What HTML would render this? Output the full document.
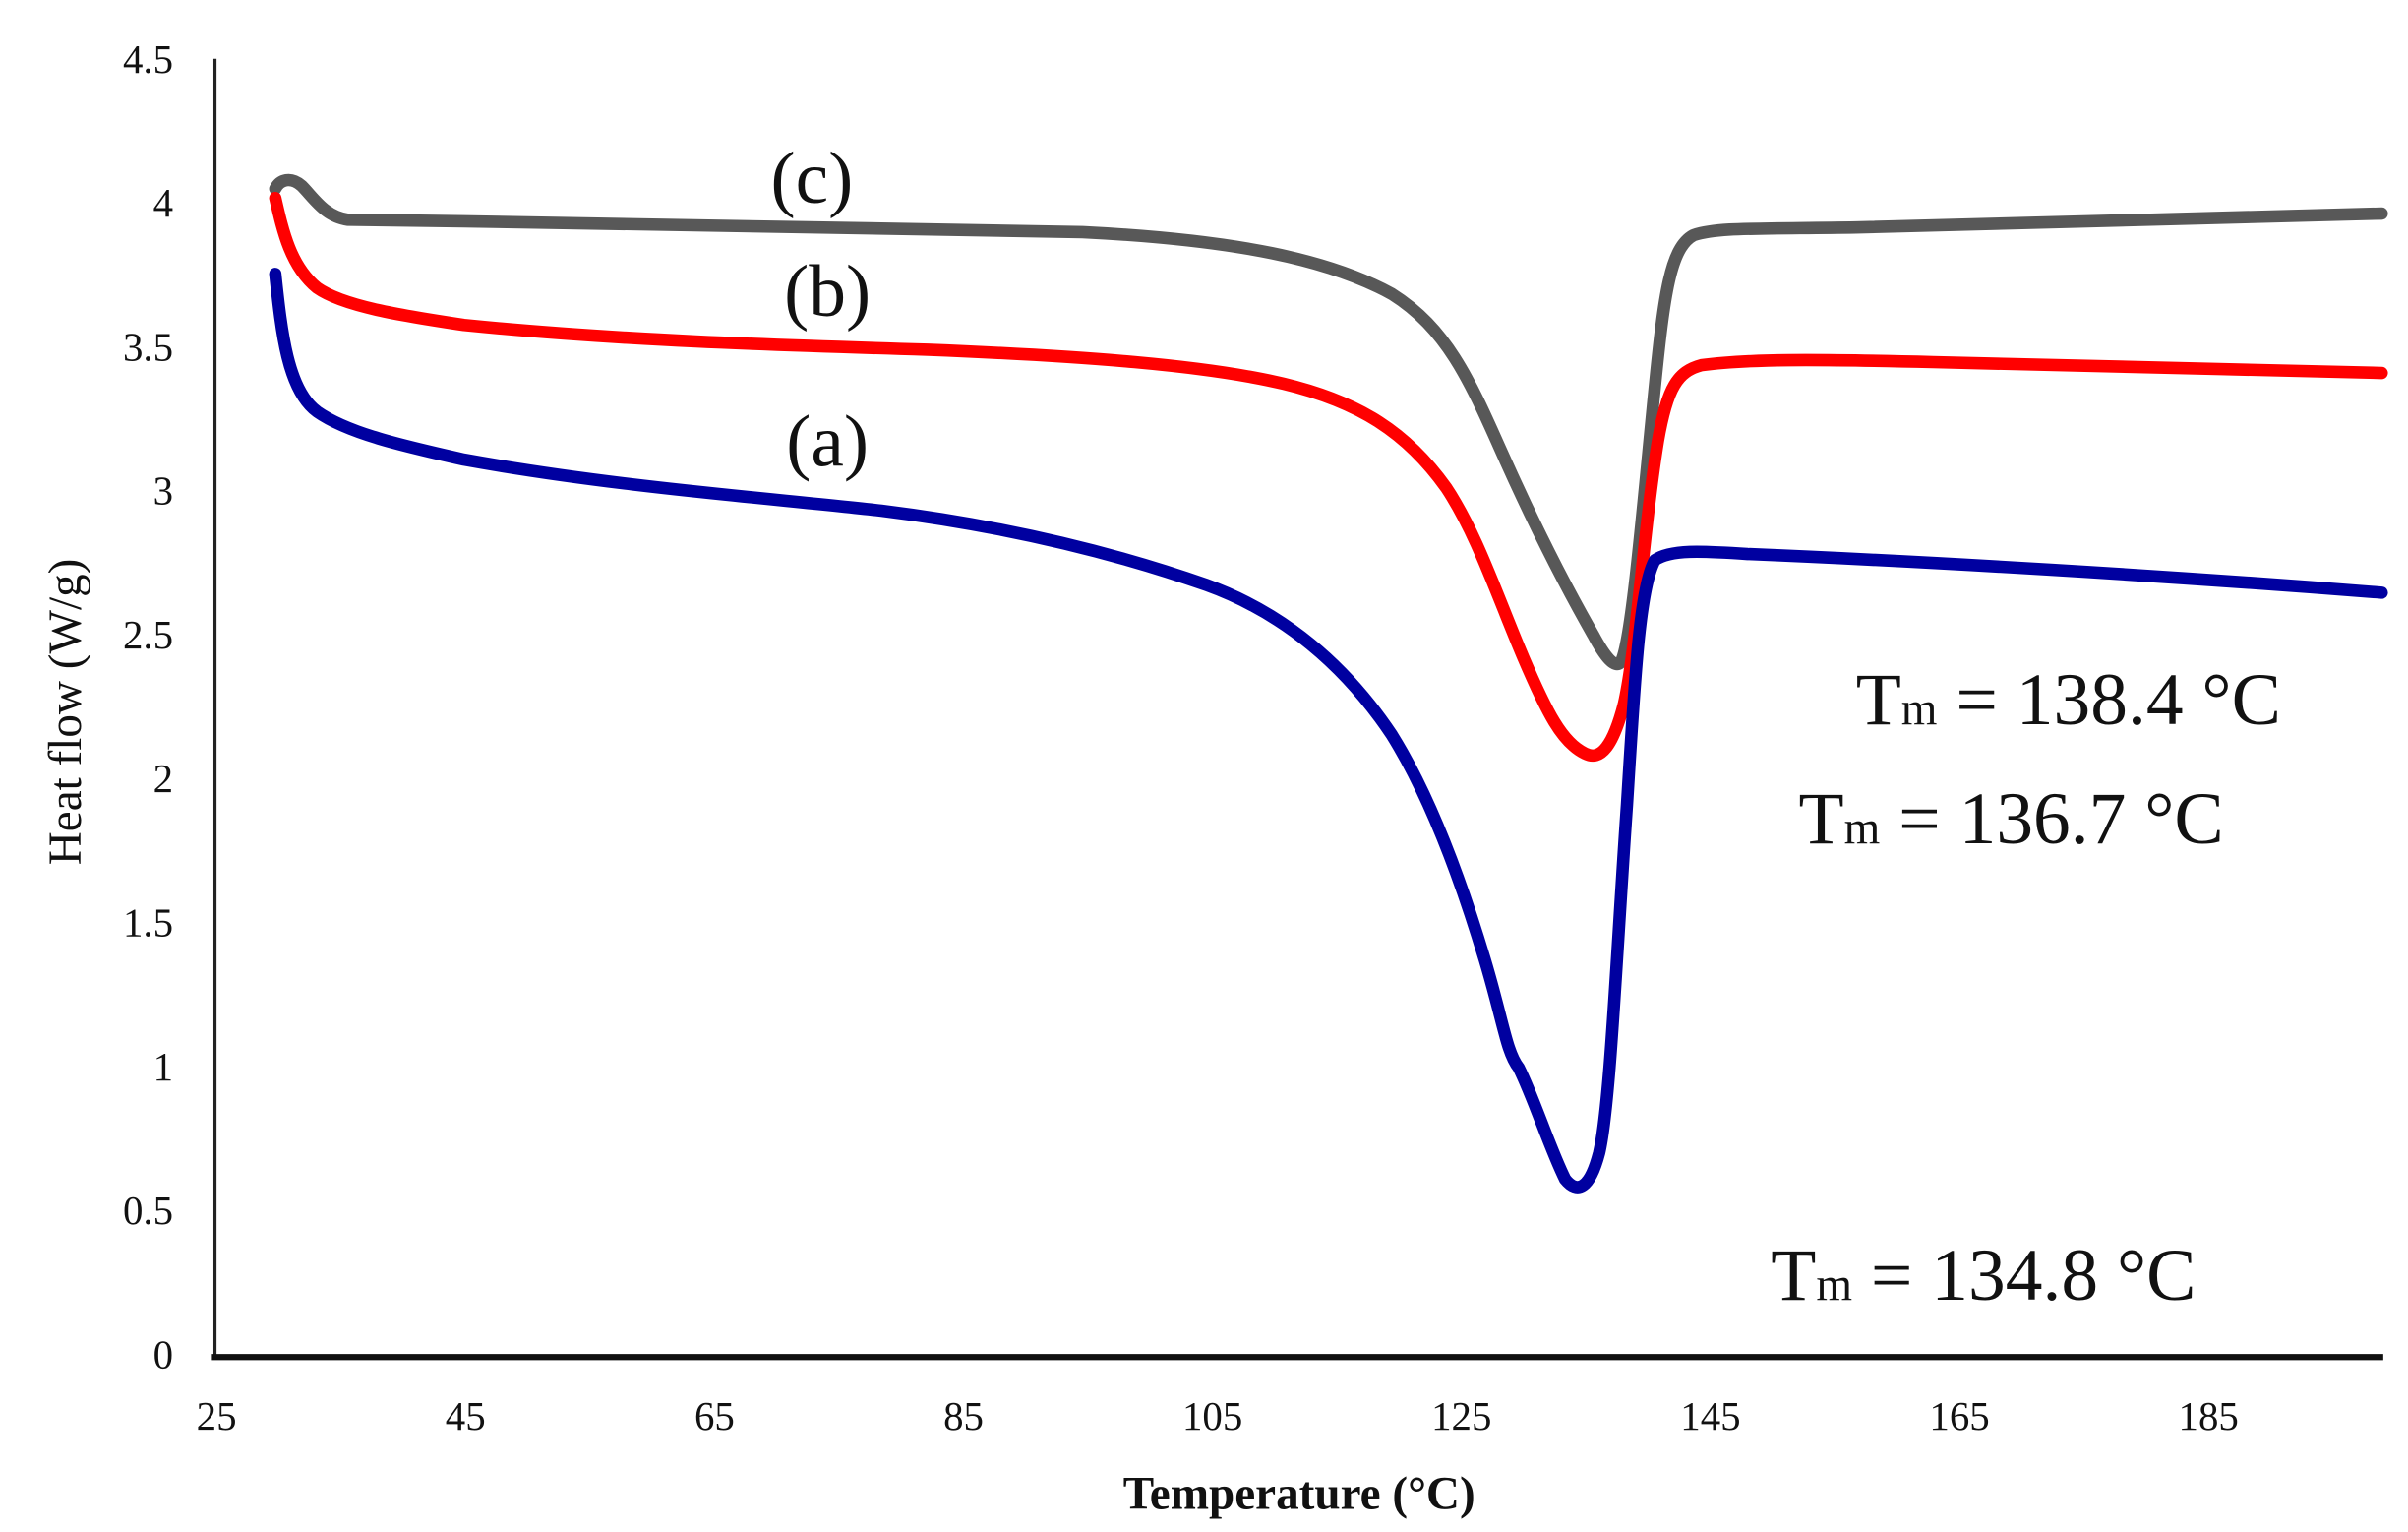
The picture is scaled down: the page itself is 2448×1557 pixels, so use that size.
<!DOCTYPE html>
<html><head><meta charset="utf-8"><style>
html,body{margin:0;padding:0;background:#fff;}
svg{display:block;}
text{font-family:"Liberation Serif",serif;fill:#111;}
</style></head><body>
<svg width="2448" height="1557" viewBox="0 0 1557 990" preserveAspectRatio="none" xmlns="http://www.w3.org/2000/svg">
<rect width="1557" height="990" fill="#fff"/>
<line x1="139" y1="38" x2="139" y2="878" stroke="#222" stroke-width="2"/>
<line x1="137" y1="877" x2="1541" y2="877" stroke="#111" stroke-width="4"/>
<g font-size="26" text-anchor="end">
<text x="112" y="47">4.5</text><text x="112" y="140">4</text><text x="112" y="233">3.5</text>
<text x="112" y="326">3</text><text x="112" y="419">2.5</text><text x="112" y="512">2</text>
<text x="112" y="605">1.5</text><text x="112" y="698">1</text><text x="112" y="791">0.5</text>
<text x="112" y="884">0</text>
</g>
<g font-size="26" text-anchor="middle">
<text x="140" y="924">25</text><text x="301" y="924">45</text><text x="462" y="924">65</text>
<text x="623" y="924">85</text><text x="784" y="924">105</text><text x="945" y="924">125</text>
<text x="1106" y="924">145</text><text x="1267" y="924">165</text><text x="1428" y="924">185</text>
</g>
<text x="840" y="975" font-size="30" font-weight="bold" text-anchor="middle">Temperature  (°C)</text>
<text transform="translate(52,460) rotate(-90)" font-size="30" text-anchor="middle">Heat flow  (W/g)</text>
<g fill="none" stroke-width="8" stroke-linecap="round" stroke-linejoin="round">
<path stroke="#585858" d="M178,122 C181,116 188,114 195,120 C203,128 210,140 225,142 L300,143 C450,145 600,147 700,150 C800,155 860,168 900,190 C935,212 950,245 970,290 C990,335 1010,375 1030,410 C1038,425 1044,432 1048,428 C1055,415 1062,330 1070,250 C1076,190 1080,160 1095,152 C1110,147 1130,148 1200,147 L1540,138"/>
<path stroke="#ff0000" d="M178,128 C183,150 188,172 205,186 C222,198 260,204 300,210 C400,220 500,223 600,226 C700,230 780,236 830,248 C880,260 910,280 935,315 C955,345 968,385 985,425 C1000,460 1010,480 1025,487 C1035,492 1043,482 1050,455 C1058,420 1063,340 1072,285 C1078,250 1085,240 1100,236 C1130,232 1170,232 1250,234 L1540,241"/>
<path stroke="#0000a0" d="M178,177 C182,215 186,252 205,266 C225,280 260,288 300,297 C400,315 500,322 570,330 C650,340 720,357 780,378 C830,396 870,430 900,475 C925,515 945,570 960,620 C972,660 974,680 982,690 C992,710 1002,742 1012,762 C1020,772 1028,768 1034,745 C1041,715 1045,620 1052,520 C1057,440 1060,380 1070,362 C1080,355 1100,356 1130,358 C1250,363 1400,372 1540,383"/>
</g>
<g font-size="48" text-anchor="middle">
<text x="525" y="131">(c)</text>
<text x="535" y="204">(b)</text>
<text x="535" y="301">(a)</text>
</g>
<g font-size="48">
<text x="1200" y="468">T<tspan font-size="30">m</tspan> = 138.4 °C</text>
<text x="1163" y="545">T<tspan font-size="30">m</tspan> = 136.7 °C</text>
<text x="1145" y="840">T<tspan font-size="30">m</tspan> = 134.8 °C</text>
</g>
</svg>
</body></html>
